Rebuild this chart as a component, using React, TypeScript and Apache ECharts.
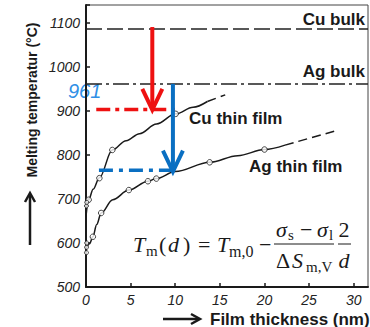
import React, { useEffect, useRef } from 'react';
import * as echarts from 'echarts';

// ---- data ----
const xTickValues = [0, 5, 10, 15, 20, 25, 30];
const yTickValues = [500, 600, 700, 800, 900, 1000, 1100];
const xMin = 0;
const xMax = 31.6;
const yMin = 500;
const yMax = 1140;

const cuBulkT = 1085;
const agBulkT = 961;

const cuPoints = [[0.3, 698], [1.5, 747], [2.95, 811], [10.05, 893]];
const cuAxisPoints = [[0.05, 684], [0.08, 692]];
const agPoints = [[0.77, 614], [1.7, 668], [4.8, 720], [6.94, 740], [7.88, 746], [13.86, 783], [20, 812]];
const agAxisPoints = [[0.05, 578], [0.06, 590], [0.08, 600]];

const cuCurveSolid = [[0, 660], [0.3, 698], [0.8, 722], [1.5, 748], [2.95, 811], [4.5, 832], [6, 848], [7.9, 870], [10.05, 893], [12, 908], [13.6, 921]];
const cuCurveDashed = [[13.6, 921], [15.6, 936]];
const agCurveSolid = [[0, 584], [0.4, 598], [0.77, 614], [1.2, 642], [1.7, 668], [3, 698], [4.8, 720], [6.94, 740], [7.88, 746], [10, 762], [13.86, 783], [17, 798], [20, 812], [22.3, 822]];
const agCurveDashed = [[22.3, 822], [27.9, 854]];

const redArrow = [[7.43, 1090, 902]];
const blueArrow = [[9.74, 961, 762]];
const redDashDot = [[1.15, 903], [9.96, 903]];
const blueDashDot = [[1.45, 765], [9.74, 765]];

const RED = '#ee1111';
const BLUE = '#0a6fc2';
const LABEL_BLUE = '#2f8fe6';
const INK = '#1a1a1a';

const SANS = '"Liberation Sans", Arial, sans-serif';
const SERIF = '"Liberation Serif", "Times New Roman", serif';

function arrowRender(color: string) {
  return (params: any, api: any) => {
    const x = api.value(0);
    const s = api.coord([x, api.value(1)]);
    const e = api.coord([x, api.value(2)]);
    return {
      type: 'group',
      children: [
        { type: 'line', shape: { x1: s[0], y1: s[1], x2: e[0], y2: e[1] - 2 }, style: { stroke: color, lineWidth: 4 } },
        {
          type: 'polyline',
          shape: { points: [[e[0] - 10, e[1] - 21], [e[0], e[1]], [e[0] + 10, e[1] - 21]] },
          style: { stroke: color, lineWidth: 4, fill: null, lineJoin: 'miter' },
        },
      ],
    };
  };
}

function txt(text: string, x: number, y: number, opts: any = {}) {
  return {
    type: 'text',
    x,
    y,
    silent: true,
    style: {
      text,
      fill: opts.fill || INK,
      fontFamily: opts.fontFamily || SERIF,
      fontSize: opts.fontSize || 22,
      fontStyle: opts.fontStyle || 'normal',
      fontWeight: opts.fontWeight || 'normal',
      align: opts.align || 'left',
      verticalAlign: 'middle',
    },
    rotation: opts.rotation || 0,
  };
}

export default function App() {
  const ref = useRef<HTMLDivElement>(null);

  useEffect(() => {
    if (!ref.current) return;
    const chart = echarts.init(ref.current, undefined, { renderer: 'svg' });

    const hollow = { color: '#ffffff', borderColor: INK, borderWidth: 1 };
    const curveLine = (data: number[][], dashed: boolean) => ({
      type: 'line',
      data,
      smooth: 0.35,
      smoothMonotone: 'x',
      showSymbol: false,
      symbol: 'none',
      lineStyle: { color: INK, width: 1.5, type: dashed ? [9, 5] : 'solid' },
      silent: true,
      z: 2,
    });

    const italic = { fontStyle: 'italic' };

    const option: any = {
      animation: false,
      backgroundColor: '#ffffff',
      grid: { left: 86, right: 2, top: 5, bottom: 40, show: true, borderColor: '#444', borderWidth: 1 },
      xAxis: {
        type: 'value',
        min: xMin,
        max: xMax,
        interval: 5,
        splitLine: { show: false },
        axisLine: { lineStyle: { color: INK, width: 2 } },
        axisTick: { inside: true, length: 4, lineStyle: { color: INK, width: 1.5 } },
        axisLabel: {
          color: '#222',
          fontFamily: SANS,
          fontStyle: 'italic',
          fontSize: 14,
          margin: 6,
          showMaxLabel: false,
          formatter: (v: number) => (xTickValues.includes(v) ? String(v) : ''),
        },
      },
      yAxis: {
        type: 'value',
        min: yMin,
        max: yMax,
        interval: 100,
        splitLine: { show: false },
        axisLine: { lineStyle: { color: INK, width: 2 } },
        axisTick: { inside: true, length: 4, lineStyle: { color: INK, width: 1.5 } },
        axisLabel: {
          color: '#222',
          fontFamily: SANS,
          fontStyle: 'italic',
          fontSize: 14,
          margin: 6,
          formatter: (v: number) => (yTickValues.includes(v) ? String(v) : ''),
        },
      },
      series: [
        {
          type: 'line',
          data: [],
          silent: true,
          markLine: {
            silent: true,
            symbol: ['none', 'none'],
            label: { show: false },
            data: [
              { yAxis: cuBulkT, lineStyle: { color: '#222', width: 1.5, type: [16, 5] } },
              { yAxis: agBulkT, lineStyle: { color: '#222', width: 1.5, type: [16, 4, 3, 4] } },
            ],
          },
        },
        curveLine(cuCurveSolid, false),
        curveLine(cuCurveDashed, true),
        curveLine(agCurveSolid, false),
        curveLine(agCurveDashed, true),
        { type: 'scatter', data: cuPoints, symbol: 'circle', symbolSize: 5.5, itemStyle: hollow, z: 3, silent: true },
        { type: 'scatter', data: agPoints, symbol: 'circle', symbolSize: 5.5, itemStyle: hollow, z: 3, silent: true },
        { type: 'scatter', data: cuAxisPoints.concat(agAxisPoints), symbol: 'circle', symbolSize: 4, itemStyle: hollow, z: 3, silent: true },
        {
          type: 'line',
          data: redDashDot,
          symbol: 'none',
          lineStyle: { color: RED, width: 3.5, type: [14, 5, 4, 5] },
          z: 5,
          silent: true,
        },
        {
          type: 'line',
          data: blueDashDot,
          symbol: 'none',
          lineStyle: { color: BLUE, width: 3.5, type: [14, 6, 4, 6] },
          z: 5,
          silent: true,
        },
        { type: 'custom', data: redArrow, encode: { x: 0, y: [1, 2] }, renderItem: arrowRender(RED), z: 6, silent: true },
        { type: 'custom', data: blueArrow, encode: { x: 0, y: [1, 2] }, renderItem: arrowRender(BLUE), z: 6, silent: true },
      ],
      graphic: [
        // bulk / film labels
        txt('Cu bulk', 365, 19, { fontFamily: SANS, fontWeight: 'bold', fontSize: 17, align: 'right' }),
        txt('Ag bulk', 365, 71, { fontFamily: SANS, fontWeight: 'bold', fontSize: 17, align: 'right' }),
        txt('Cu thin film', 189, 118, { fontFamily: SANS, fontWeight: 'bold', fontSize: 17 }),
        txt('Ag thin film', 249, 166, { fontFamily: SANS, fontWeight: 'bold', fontSize: 17 }),
        txt('961', 68, 91, { fontFamily: SANS, fontStyle: 'italic', fontSize: 20, fill: LABEL_BLUE }),
        // axis titles
        txt('Melting temperatur (°C)', 32, 100, { fontFamily: SANS, fontWeight: 'bold', fontSize: 14, align: 'center', rotation: Math.PI / 2 }),
        { type: 'line', shape: { x1: 30, y1: 245, x2: 30, y2: 194 }, style: { stroke: INK, lineWidth: 2.5 }, silent: true },
        { type: 'polyline', shape: { points: [[25, 202], [30, 193], [35, 202]] }, style: { stroke: INK, lineWidth: 2.5, fill: null }, silent: true },
        txt('Film thickness (nm)', 210, 319, { fontFamily: SANS, fontWeight: 'bold', fontSize: 17 }),
        { type: 'line', shape: { x1: 163, y1: 319, x2: 199, y2: 319 }, style: { stroke: INK, lineWidth: 2.5 }, silent: true },
        { type: 'polyline', shape: { points: [[191, 314], [200, 319], [191, 324]] }, style: { stroke: INK, lineWidth: 2.5, fill: null }, silent: true },
        // formula  T_m(d) = T_m,0 − (σs − σl)/(ΔS_m,V) · 2/d
        txt('T', 133, 244, italic),
        txt('m', 146, 251, { fontSize: 15 }),
        txt('(', 159, 244),
        txt('d', 168, 244, italic),
        txt(')', 183, 244),
        txt('=', 198, 244),
        txt('T', 217, 244, italic),
        txt('m,0', 229, 251, { fontSize: 16 }),
        txt('−', 259, 244),
        txt('σ', 276, 229, italic),
        txt('s', 288, 235, { fontSize: 15 }),
        txt('−', 300, 229),
        txt('σ', 317, 229, italic),
        txt('l', 329, 235, { fontSize: 15 }),
        { type: 'line', shape: { x1: 274, y1: 244, x2: 334, y2: 244 }, style: { stroke: INK, lineWidth: 1 }, silent: true },
        txt('Δ', 276, 260),
        txt('S', 292, 260, italic),
        txt('m,V', 306, 267, { fontSize: 15 }),
        txt('2', 344, 229, { align: 'center' }),
        { type: 'line', shape: { x1: 338, y1: 244, x2: 351, y2: 244 }, style: { stroke: INK, lineWidth: 1 }, silent: true },
        txt('d', 344, 260, { fontStyle: 'italic', align: 'center' }),
      ],
    };

    chart.setOption(option);
    return () => chart.dispose();
  }, []);

  return (
    <div
      ref={ref}
      style={{ position: 'fixed', left: 0, top: 0, width: 370, height: 327, background: '#fff' }}
    />
  );
}
